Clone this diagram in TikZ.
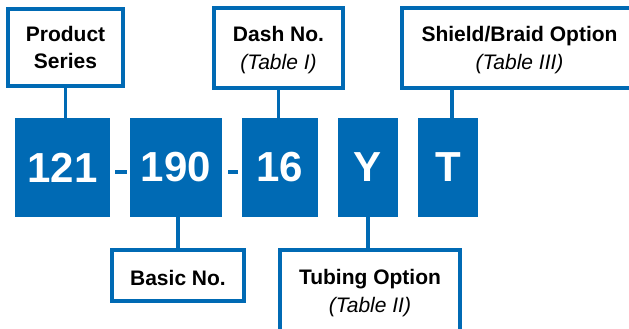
\documentclass[tikz,border=0pt]{standalone}
\usepackage{fontspec}
\setmainfont{Liberation Sans}
\usepackage{tikz}
\definecolor{partblue}{RGB}{0,106,180}

\begin{document}
\begin{tikzpicture}[x=1pt, y=-1pt,
	labelbox/.style={draw=partblue, line width=3.8pt, fill=white, inner sep=0pt},
	labeltext/.style={align=center, inner sep=0pt, font=\fontsize{21}{27}\selectfont\bfseries},
	codebox/.style={fill=partblue, text=white, inner sep=0pt, minimum height=99pt, font=\fontsize{42}{42}\selectfont\bfseries},
	link/.style={draw=partblue, line width=3.8pt},
	hyphen/.style={draw=partblue, line width=4pt}]
	\useasboundingbox (0,0) rectangle (629,329);
	\clip (0,0) rectangle (629,329);
	\node[codebox, minimum width=95pt] (c121) at (62.5,167.5) {121};
	\node[codebox, minimum width=92pt] (c190) at (176,167.5) {190};
	\node[codebox, minimum width=76pt] (c16) at (280,167.5) {16};
	\node[codebox, minimum width=60pt] (cY) at (368,167.5) {Y};
	\node[codebox, minimum width=60pt] (cT) at (448,167.5) {T};
	\draw[hyphen] ([shift={(5pt,-4.5pt)}]c121.east) -- ([shift={(-3pt,-4.5pt)}]c190.west);
	\draw[hyphen] ([shift={(6pt,-4.5pt)}]c190.east) -- ([shift={(-4pt,-4.5pt)}]c16.west);
	\node[labelbox, minimum width=115.5pt, minimum height=77.5pt] (series) at (65.5,47.5) {};
	\node[labelbox, minimum width=129.5pt, minimum height=80.5pt] (dash) at (278.5,48) {};
	\node[labelbox, minimum width=235.5pt, minimum height=80.5pt] (shield) at (519.5,48) {};
	\node[labelbox, minimum width=132.5pt, minimum height=51.5pt] (basic) at (178,275.5) {};
	\node[labelbox, minimum width=180.5pt, minimum height=83.5pt] (tubing) at (370,291.5) {};
	\node[labeltext] (seriestext) at (series) {Product\\Series};
	\node[labeltext] (dashtext) at ([yshift=-2pt]dash.center) {Dash No.\\[1pt]{\mdseries\itshape (Table I)}};
	\node[labeltext] (shieldtext) at ([yshift=-2.5pt]shield.center) {Shield/Braid Option\\[1pt]{\mdseries\itshape (Table III)}};
	\node[labeltext] (basictext) at ([yshift=-2pt]basic.center) {Basic No.};
	\node[labeltext] (tubingtext) at ([yshift=-2pt]tubing.center) {Tubing Option\\[1pt]{\mdseries\itshape (Table II)}};
	\draw[link] (series.south) -- (series.south |- c121.north);
	\draw[link] (dash.south) -- (dash.south |- c16.north);
	\draw[link] ([xshift=4pt]cT.north) -- ([xshift=4pt]cT.north |- shield.south);
	\draw[link] (basic.north) -- (basic.north |- c190.south);
	\draw[link] (cY.south) -- (cY.south |- tubing.north);
\end{tikzpicture}
\end{document}
